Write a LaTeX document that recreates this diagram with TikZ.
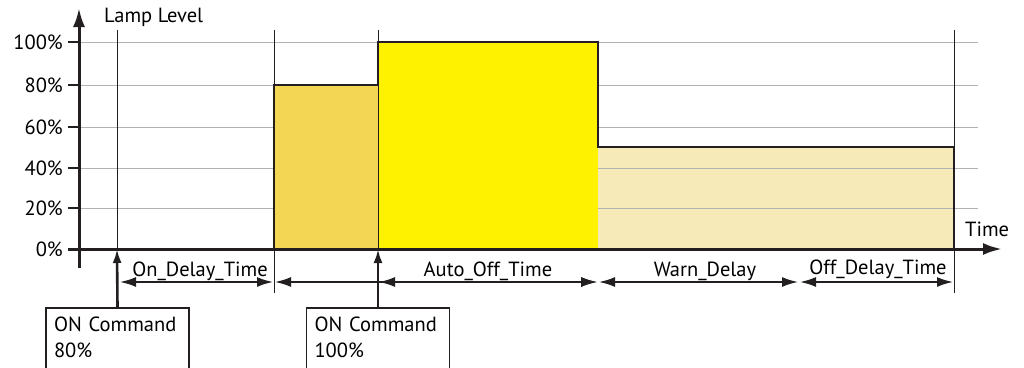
\documentclass[tikz,border=0pt]{standalone}
\usepackage{fontspec}
\setmainfont{PT Sans}
\usetikzlibrary{calc}
\usetikzlibrary{arrows.meta}
\definecolor{gold_fill}{HTML}{F2D654}
\definecolor{full_fill}{HTML}{FFF200}
\definecolor{warn_fill}{HTML}{F5EAB8}
\definecolor{ink}{HTML}{231F20}

\begin{document}
\begin{tikzpicture}[>={Latex[length=16pt,width=10pt]}, x=1pt, y=-1pt,
  font=\fontsize{20.5}{26}\selectfont,
  grid_line/.style={gray!60, line width=0.7pt},
  mark_line/.style={ink, line width=1pt},
  dim_arrow/.style={<->, ink, line width=1.8pt, shorten <=1pt, shorten >=1pt},
  cmd_box/.style={draw=ink, line width=1.6pt, anchor=north, text width=127pt, align=left, inner xsep=8pt, inner ysep=9pt}]
\useasboundingbox (0,0) rectangle (1024,367);

% time marks on the axis
\coordinate (t_on) at (117,249);
\coordinate (t_start) at (274,249);
\coordinate (t_cmd) at (378,249);
\coordinate (t_warn) at (598,249);
\coordinate (t_end) at (954,249);

% lamp level
\fill[warn_fill] (598,147) rectangle (954,249);
\foreach \lvl/\yy in {20/208,40/168,60/127,80/85,100/42} {
  \draw[grid_line] (79,\yy) -- (978,\yy);
  \draw[ink, line width=2pt] (68,\yy) -- (79,\yy);
  \node[name=lbl_\lvl, anchor=east, inner sep=2pt] at (65,\yy) {\lvl\%};
}
\fill[gold_fill] (274,85) rectangle (378,249);
\fill[full_fill] (378,42) rectangle (598,249);

\draw[mark_line] (t_on) -- +(0,-219);
\draw[mark_line] ($(t_start)+(0,44)$) -- +(0,-263);
\draw[mark_line] (t_cmd) -- +(0,-219);
\draw[mark_line] ($(t_end)+(0,44)$) -- +(0,-263);

\draw[ink, line width=2.6pt, line join=miter] (t_start) |- (378,85) |- (598,42) |- (954,147) -- (t_end);

% axes
\node[name=lbl_0, anchor=east, inner sep=2pt] at (65,249) {0\%};
\draw[ink, line width=3pt, -{Latex[length=19pt,width=12pt]}] (79,268) -- (79,8);
\draw[ink, line width=3pt, -{Latex[length=19pt,width=12pt]}] (68,249) -- (1002,249);
\node[name=y_title, anchor=west, inner sep=2pt] at (102,17) {Lamp Level};
\node[name=x_title, anchor=west, inner sep=2pt] at (963,229) {Time};

% durations
\coordinate (d_on) at (119,282);
\coordinate (d_start) at (274,282);
\coordinate (d_cmd) at (378,282);
\coordinate (d_warn) at (598,282);
\coordinate (d_offd) at (799,282);
\coordinate (d_end) at (954,282);
\draw(d_on) edge[dim_arrow] (d_start);
\draw(d_start) edge[dim_arrow] (d_warn);
\draw(d_cmd) edge[dim_arrow] (d_warn);
\draw(d_warn) edge[dim_arrow] (d_offd);
\draw(d_offd) edge[dim_arrow] (d_end);
\node[name=on_delay, anchor=base] at (200,276) {On\_Delay\_Time};
\node[name=auto_off, anchor=base] at (488,276) {Auto\_Off\_Time};
\node[name=warn_delay, anchor=base] at (705,276) {Warn\_Delay};
\node[name=off_delay, anchor=base] at (878,274) {Off\_Delay\_Time};

% commands
\node[name=cmd_1, cmd_box] at (117.5,307) {ON Command\\80\%\rule[-40pt]{0pt}{0pt}};
\node[name=cmd_2, cmd_box] at (378,307) {ON Command\\100\%\rule[-40pt]{0pt}{0pt}};
\draw(cmd_1.north) edge[-{Latex[length=14pt,width=9pt]}, ink, line width=2.6pt] (t_on);
\draw(cmd_2.north) edge[-{Latex[length=14pt,width=9pt]}, ink, line width=2.6pt] (t_cmd);
\end{tikzpicture}
\end{document}
